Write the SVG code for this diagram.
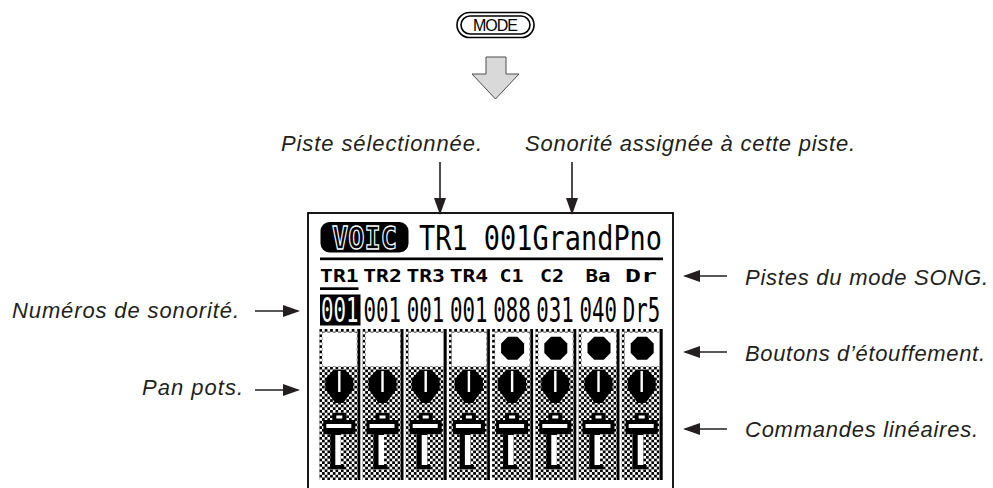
<svg xmlns="http://www.w3.org/2000/svg" width="993" height="488" viewBox="0 0 993 488">
<style>
.lbl{font-family:"Liberation Sans",Arial,sans-serif;font-style:italic;font-size:22px;fill:#231f20}
.lcd{font-family:"DejaVu Sans Mono","Liberation Mono",monospace;fill:#000}
.conn{stroke:#231f20;stroke-width:1.6;fill:none}
</style>
<defs>
<marker id="ah" viewBox="0 0 17 12" refX="15" refY="6" markerWidth="17" markerHeight="12" markerUnits="userSpaceOnUse" orient="auto">
<path d="M0,0 L17,6 L0,12 Z" fill="#231f20"/>
</marker>
<pattern id="chk" x="0" y="329" width="5.4" height="5.4" patternUnits="userSpaceOnUse">
<rect width="5.4" height="5.4" fill="#fff"/>
<rect width="2.7" height="2.7" fill="#000" shape-rendering="crispEdges"/>
<rect x="2.7" y="2.7" width="2.7" height="2.7" fill="#000" shape-rendering="crispEdges"/>
</pattern>
<g id="strip-base">
<rect x="0" y="329" width="38.3" height="151" fill="url(#chk)"/>
<rect x="38.3" y="329" width="2.7" height="151" fill="#000"/>
<rect x="3" y="332.5" width="34.5" height="34" fill="#fff"/>
<polygon points="14,370 26,370 34,379 34,389 24,403 16,403 6,389 6,379" fill="#000"/>
<rect x="18.8" y="371" width="2.4" height="21" fill="#fff"/>
<rect x="13" y="413" width="14" height="7" fill="#000"/>
<rect x="17" y="415.5" width="6" height="3" fill="#fff"/>
<rect x="4" y="420" width="32" height="14" fill="#000"/>
<rect x="7" y="424" width="25" height="4" fill="#fff"/>
<rect x="11" y="434" width="10.5" height="35" fill="#000"/>
<rect x="11" y="465" width="14" height="4" fill="#000"/>
<rect x="16" y="435" width="5.5" height="30" fill="#fff"/>
</g>
<polygon id="mute-on" points="15.7,336.8 25.3,336.8 32,343.5 32,353.1 25.3,359.8 15.7,359.8 9,353.1 9,343.5" fill="#000"/>
</defs>

<rect width="993" height="488" fill="#fff"/>

<g id="mode-button">
<rect x="457" y="12.5" width="77" height="25" rx="12.5" fill="#fff" stroke="#000" stroke-width="1.6"/>
<rect x="461" y="16" width="69" height="18" rx="9" fill="#fff" stroke="#000" stroke-width="1.6"/>
<text x="495.5" y="30.5" text-anchor="middle" font-family="'Liberation Sans',Arial,sans-serif" font-size="16" textLength="45" fill="#000">MODE</text>
</g>

<g id="mode-arrow">
<path d="M486,57 L506,57 L506,74 L519,74 L495.5,99 L472,74 L486,74 Z" fill="#d9d9d9" stroke="#4d4d4d" stroke-width="1"/>
</g>

<g id="lcd">
<rect x="308" y="213" width="365" height="290" fill="#fff" stroke="#000" stroke-width="1.8"/>
<g id="lcd-row1">
<rect x="320.5" y="222" width="88" height="30.5" rx="9" fill="#000"/>
<text class="lcd" x="364.5" y="249" text-anchor="middle" font-size="32" font-weight="bold" stroke="#fff" stroke-width="1.3" textLength="65" lengthAdjust="spacingAndGlyphs">VOIC</text>
<text class="lcd" x="419" y="250" font-size="34" textLength="243" lengthAdjust="spacingAndGlyphs">TR1 001GrandPno</text>
<rect x="320" y="257.5" width="343" height="2.7" fill="#000"/>
</g>
<g id="lcd-row2" font-size="18.5" font-weight="bold" text-anchor="middle">
<text class="lcd" x="339.3" y="282" textLength="38.5" lengthAdjust="spacingAndGlyphs">TR1</text>
<text class="lcd" x="382.5" y="282" textLength="38.5" lengthAdjust="spacingAndGlyphs">TR2</text>
<text class="lcd" x="425.7" y="282" textLength="38.5" lengthAdjust="spacingAndGlyphs">TR3</text>
<text class="lcd" x="468.9" y="282" textLength="38.5" lengthAdjust="spacingAndGlyphs">TR4</text>
<text class="lcd" x="511.5" y="282" textLength="24" lengthAdjust="spacingAndGlyphs">C1</text>
<text class="lcd" x="552" y="282" textLength="24" lengthAdjust="spacingAndGlyphs">C2</text>
<text class="lcd" x="598" y="282" textLength="25" lengthAdjust="spacingAndGlyphs">Ba</text>
<text class="lcd" x="641" y="282" textLength="32" lengthAdjust="spacingAndGlyphs">Dr</text>
<rect x="320" y="287.3" width="38.5" height="2.7" fill="#000"/>
</g>
<g id="lcd-row3" font-size="21.5" text-anchor="middle">
<rect x="320" y="294.5" width="40.5" height="31" fill="#000"/>
<text class="lcd" transform="translate(339.8,322) scale(1,1.58)" textLength="37.5" lengthAdjust="spacingAndGlyphs" style="fill:#fff">001</text>
<text class="lcd" transform="translate(382.3,322) scale(1,1.58)" textLength="37.5" lengthAdjust="spacingAndGlyphs">001</text>
<text class="lcd" transform="translate(425.5,322) scale(1,1.58)" textLength="37.5" lengthAdjust="spacingAndGlyphs">001</text>
<text class="lcd" transform="translate(468.7,322) scale(1,1.58)" textLength="37.5" lengthAdjust="spacingAndGlyphs">001</text>
<text class="lcd" transform="translate(511.9,322) scale(1,1.58)" textLength="37.5" lengthAdjust="spacingAndGlyphs">088</text>
<text class="lcd" transform="translate(555.1,322) scale(1,1.58)" textLength="37.5" lengthAdjust="spacingAndGlyphs">031</text>
<text class="lcd" transform="translate(598.3,322) scale(1,1.58)" textLength="37.5" lengthAdjust="spacingAndGlyphs">040</text>
<text class="lcd" transform="translate(641.5,322) scale(1,1.58)" textLength="37.5" lengthAdjust="spacingAndGlyphs">Dr5</text>
</g>
<g id="strips">
<g id="strip-1"><use href="#strip-base" x="319.3"/></g>
<g id="strip-2"><use href="#strip-base" x="362.5"/></g>
<g id="strip-3"><use href="#strip-base" x="405.7"/></g>
<g id="strip-4"><use href="#strip-base" x="448.9"/></g>
<g id="strip-5"><use href="#strip-base" x="492.1"/><use href="#mute-on" x="492.1"/></g>
<g id="strip-6"><use href="#strip-base" x="535.3"/><use href="#mute-on" x="535.3"/></g>
<g id="strip-7"><use href="#strip-base" x="578.5"/><use href="#mute-on" x="578.5"/></g>
<g id="strip-8"><use href="#strip-base" x="621.7"/><use href="#mute-on" x="621.7"/></g>
</g>
</g>

<g id="label-piste"><text class="lbl" x="281" y="151" textLength="201">Piste sélectionnée.</text></g>
<g id="label-sonorite"><text class="lbl" x="525" y="151" textLength="330">Sonorité assignée à cette piste.</text></g>
<g id="label-pistes-song"><text class="lbl" x="745" y="285" textLength="243">Pistes du mode SONG.</text></g>
<g id="label-boutons"><text class="lbl" x="745" y="361" textLength="240">Boutons d’étouffement.</text></g>
<g id="label-commandes"><text class="lbl" x="745" y="437" textLength="233">Commandes linéaires.</text></g>
<g id="label-numeros"><text class="lbl" x="12" y="318" textLength="227">Numéros de sonorité.</text></g>
<g id="label-pan"><text class="lbl" x="142" y="395" textLength="101">Pan pots.</text></g>

<g id="connectors" class="conn" marker-end="url(#ah)">
<line x1="440" y1="162" x2="440" y2="213"/>
<line x1="572" y1="162" x2="572" y2="213"/>
<line x1="727" y1="276" x2="685" y2="276"/>
<line x1="727" y1="352" x2="685" y2="352"/>
<line x1="727" y1="429" x2="685" y2="429"/>
<line x1="255" y1="311" x2="298" y2="311"/>
<line x1="255" y1="390" x2="298" y2="390"/>
</g>
</svg>
